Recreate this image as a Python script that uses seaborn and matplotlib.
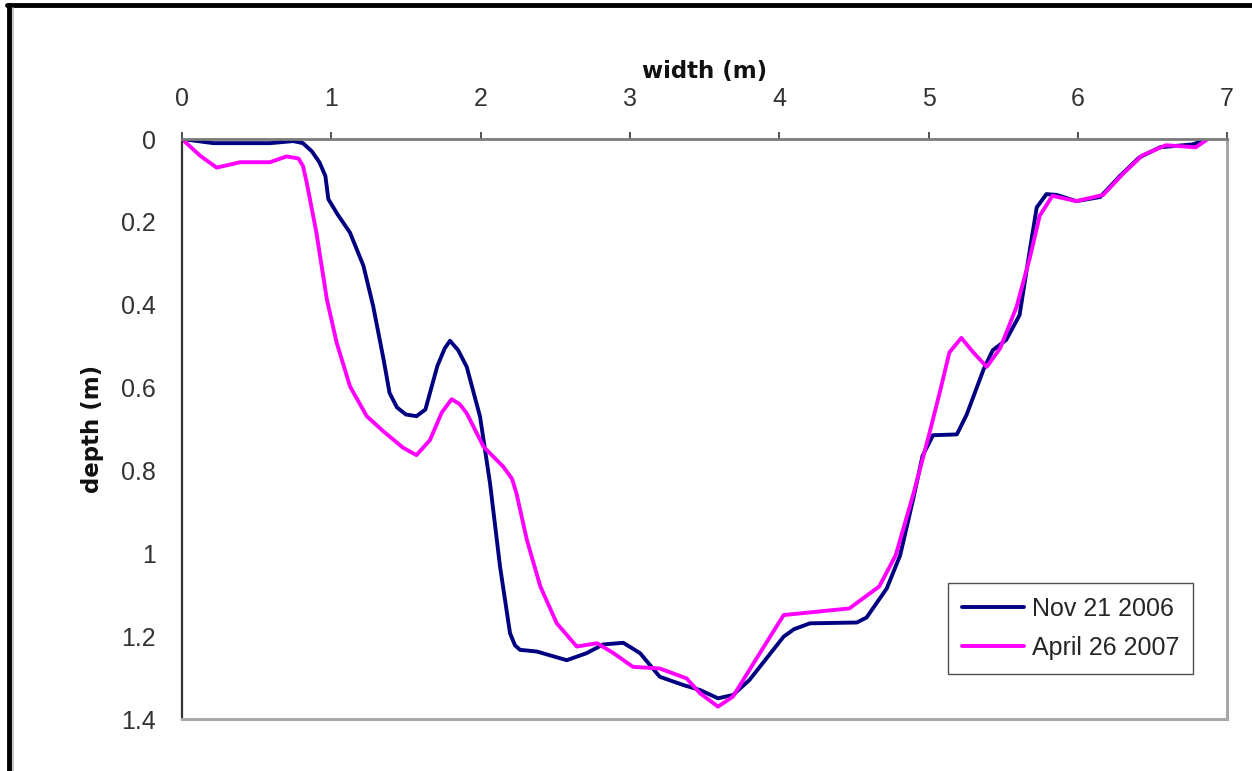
import pandas as pd
import matplotlib
matplotlib.use("Agg")
import matplotlib.pyplot as plt
import seaborn as sns
from matplotlib.lines import Line2D
from matplotlib.ticker import FormatStrFormatter

# Cross-section survey
nov_x = [0, 0.21, 0.59, 0.745, 0.81, 0.87, 0.92, 0.96, 0.98, 1.04, 1.125, 1.215, 1.28,
         1.35, 1.39, 1.44, 1.50, 1.57, 1.63, 1.71, 1.76, 1.795, 1.85, 1.907, 1.996,
         2.063, 2.13, 2.197, 2.23, 2.264, 2.376, 2.577, 2.71, 2.82, 2.956, 3.068,
         3.2, 3.358, 3.47, 3.59, 3.69, 3.80, 4.03, 4.1, 4.206, 4.52, 4.585, 4.72,
         4.81, 4.9, 4.96, 5.03, 5.19, 5.256, 5.37, 5.43, 5.52, 5.61, 5.68, 5.725,
         5.79, 5.86, 5.99, 6.15, 6.28, 6.41, 6.55, 6.77, 6.85]
nov_depth = [0, 0.01, 0.01, 0.005, 0.01, 0.03, 0.056, 0.089, 0.145, 0.181, 0.226,
             0.306, 0.403, 0.532, 0.613, 0.648, 0.665, 0.669, 0.653, 0.548, 0.505,
             0.487, 0.51, 0.55, 0.67, 0.831, 1.032, 1.193, 1.222, 1.233, 1.237,
             1.258, 1.241, 1.22, 1.216, 1.241, 1.298, 1.318, 1.33, 1.35, 1.342,
             1.306, 1.201, 1.183, 1.169, 1.167, 1.155, 1.085, 1.005, 0.865, 0.765,
             0.715, 0.713, 0.665, 0.555, 0.51, 0.485, 0.425, 0.265, 0.165, 0.133,
             0.135, 0.15, 0.14, 0.09, 0.045, 0.02, 0.013, 0.003]

apr_x = [0, 0.12, 0.232, 0.389, 0.589, 0.70, 0.78, 0.81, 0.835, 0.90, 0.97, 1.036,
         1.125, 1.237, 1.35, 1.48, 1.57, 1.66, 1.74, 1.806, 1.86, 1.907, 2.02,
         2.152, 2.21, 2.24, 2.31, 2.40, 2.51, 2.644, 2.78, 2.89, 3.02, 3.20, 3.38,
         3.47, 3.59, 3.69, 3.87, 4.03, 4.14, 4.47, 4.67, 4.78, 4.9, 5.01, 5.08,
         5.14, 5.22, 5.30, 5.39, 5.48, 5.59, 5.68, 5.745, 5.83, 5.99, 6.17, 6.30,
         6.43, 6.59, 6.79, 6.86]
apr_depth = [0, 0.04, 0.069, 0.056, 0.056, 0.042, 0.047, 0.065, 0.105, 0.226, 0.387,
             0.492, 0.597, 0.669, 0.706, 0.745, 0.763, 0.727, 0.66, 0.628, 0.64,
             0.662, 0.743, 0.791, 0.82, 0.855, 0.968, 1.08, 1.169, 1.225, 1.217,
             1.241, 1.274, 1.278, 1.302, 1.338, 1.37, 1.346, 1.241, 1.149, 1.145,
             1.133, 1.08, 1.005, 0.855, 0.705, 0.605, 0.515, 0.48, 0.515, 0.55,
             0.505, 0.405, 0.285, 0.185, 0.137, 0.15, 0.135, 0.085, 0.04, 0.015,
             0.02, 0.003]

series_names = ["Nov 21 2006", "April 26 2007"]
series_colors = {"Nov 21 2006": "#000080", "April 26 2007": "#ff00ff"}
x_ticks = [0, 1, 2, 3, 4, 5, 6, 7]
y_ticks = [0, 0.2, 0.4, 0.6, 0.8, 1.0, 1.2, 1.4]

df = pd.concat([
    pd.DataFrame({"width": nov_x, "depth": nov_depth, "survey": series_names[0]}),
    pd.DataFrame({"width": apr_x, "depth": apr_depth, "survey": series_names[1]}),
], ignore_index=True)

sns.set_theme(style="white")
plt.rcParams["font.family"] = ["Liberation Sans", "DejaVu Sans"]

fig = plt.figure(figsize=(12.52, 7.71), dpi=100)
ax = fig.add_axes([0.1454, 0.0674, 0.8347, 0.7523])

sns.lineplot(data=df, x="width", y="depth", hue="survey", hue_order=series_names,
             palette=series_colors, sort=False, estimator=None, linewidth=2.8,
             solid_joinstyle="round", solid_capstyle="round", ax=ax)

ax.set_xlim(0, 7)
ax.set_ylim(1.4, 0)
ax.set_xticks(x_ticks)
ax.set_yticks(y_ticks)
ax.yaxis.set_major_formatter(FormatStrFormatter("%g"))
ax.xaxis.tick_top()
ax.xaxis.set_label_position("top")
ax.tick_params(axis="both", direction="out", width=1.2,
               labelsize=18, colors="#333333")
ax.tick_params(axis="x", length=5, pad=15)
ax.tick_params(axis="y", length=6, pad=13)

ax.set_xlabel("width (m)", family="DejaVu Sans", fontweight="bold",
              fontsize=16.5, color="#111111", labelpad=7)
ax.set_ylabel("depth (m)", family="DejaVu Sans", fontweight="bold",
              fontsize=16.5, color="#111111", labelpad=12)

for side, col, lw in [("top", "#7a7a7a", 2.0), ("left", "#333333", 1.6),
                      ("right", "#a8a8a8", 2.2), ("bottom", "#a8a8a8", 2.2)]:
    ax.spines[side].set_visible(True)
    ax.spines[side].set_color(col)
    ax.spines[side].set_linewidth(lw)

leg = ax.legend(loc="upper right", bbox_to_anchor=(0.9675, 0.2345),
                borderaxespad=0, fontsize=18, frameon=True, fancybox=False,
                handlelength=2.5, handletextpad=0.3, labelspacing=0.6,
                borderpad=0.55)
leg.get_frame().set_edgecolor("#222222")
leg.get_frame().set_linewidth(1.0)
for line in leg.get_lines():
    line.set_linewidth(2.8)

# black frame of the pasted picture (left and top), plus thin grey inner line
fig.add_artist(Line2D([0.0072, 0.0072], [0, 0.994], color="black", lw=3.5))
fig.add_artist(Line2D([0.0055, 1.0], [0.9935, 0.9935], color="black", lw=3.5))
fig.add_artist(Line2D([0.0105, 0.0105], [0, 0.99], color="#bbbbbb", lw=1.2))

fig.savefig("out.png", dpi=100)
